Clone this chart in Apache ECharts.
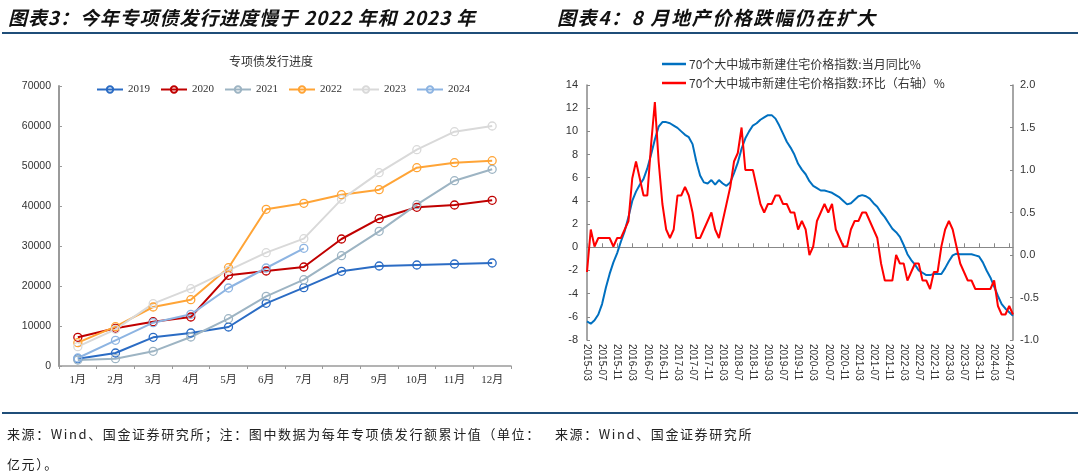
<!DOCTYPE html>
<html lang="zh">
<head>
<meta charset="UTF-8">
<title>专项债发行进度 / 地产价格</title>
<script src="https://cdn.jsdelivr.net/npm/echarts@6/dist/echarts.min.js"></script>
<style>
    html, body { margin: 0; padding: 0; background: #fff; }
    #page { position: relative; width: 1078px; height: 471px; overflow: hidden; font-family: "Noto Sans CJK SC", sans-serif; }
    #chart { position: absolute; left: 0; top: 0; width: 1078px; height: 471px; }
    .head { position: absolute; top: 6px; font-size: 19px; line-height: 22px; font-weight: bold; font-style: italic; color: #111; white-space: nowrap; }
    .rule { position: absolute; left: 2px; width: 1076px; height: 2px; background: #1f4e79; }
    .src { position: absolute; font-size: 13px; line-height: 18px; color: #222; letter-spacing: 1.6px; white-space: nowrap; }
</style>
</head>
<body>
<div id="page">
    <div id="chart"></div>
    <div class="head" style="left:8px;letter-spacing:0.9px;">图表3：今年专项债发行进度慢于 2022 年和 2023 年</div>
    <div class="head" style="left:557px;letter-spacing:1.6px;">图表4：8 月地产价格跌幅仍在扩大</div>
    <div class="rule" style="top:32px;"></div>
    <div class="rule" style="top:412px;"></div>
    <div class="src" style="left:7px;top:425px;">来源：Wind、国金证券研究所；注：图中数据为每年专项债发行额累计值（单位：</div>
    <div class="src" style="left:7px;top:455px;">亿元）。</div>
    <div class="src" style="left:555px;top:425px;">来源：Wind、国金证券研究所</div>
</div>
<script type="text/javascript">
    // 图表3 专项债累计发行额（亿元）
    var months = ['1月', '2月', '3月', '4月', '5月', '6月', '7月', '8月', '9月', '10月', '11月', '12月'];
    var years = ['2019', '2020', '2021', '2022', '2023', '2024'];
    var s2019 = [1830, 3250, 7170, 8250, 9750, 15670, 19580, 23670, 25000, 25250, 25500, 25750];
    var s2020 = [7170, 9420, 11080, 12250, 22670, 23750, 24750, 31750, 36830, 39670, 40250, 41420];
    var s2021 = [1500, 1830, 3670, 7250, 11830, 17420, 21580, 27580, 33670, 40330, 46330, 49170];
    var s2022 = [5830, 9830, 14750, 16580, 24580, 39170, 40670, 42830, 44080, 49580, 50830, 51330];
    var s2023 = [4830, 9170, 15580, 19330, 23900, 28330, 31830, 41670, 48330, 54080, 58580, 60000];
    var s2024 = [2000, 6420, 10830, 12920, 19500, 24500, 29420];

    // 图表4 70城新建住宅价格指数，2015-03 ~ 2024-08
    var startYear = 2015, startMonth = 3, monthCount = 114;
    var yoy = [
        -6.4, -6.6, -6.3, -5.8, -4.9, -3.5, -2.3, -1.3, -0.5, 0.5, 1.4,
        2.6, 4.0, 4.8, 5.4, 5.9, 6.8, 8.0, 9.3, 10.4, 10.8,
        10.8, 10.7, 10.5, 10.3, 10.0, 9.7, 9.5, 8.9, 7.4, 6.2,
        5.6, 5.5, 5.8, 5.4, 5.8, 5.5, 5.3, 5.6, 6.4, 7.3,
        8.5, 9.4, 10.0, 10.5, 10.7, 11.0, 11.2, 11.4, 11.4, 11.1,
        10.5, 9.8, 9.1, 8.6, 8.0, 7.2, 6.7, 6.3, 5.7, 5.3,
        5.1, 4.9, 4.9, 4.8, 4.7, 4.5, 4.3, 4.0, 3.7, 3.8,
        4.1, 4.4, 4.5, 4.4, 4.2, 3.8, 3.5, 3.0, 2.6, 2.1,
        1.6, 1.3, 0.9, 0.2, -0.6, -1.1, -1.5, -2.0, -2.2, -2.4,
        -2.4, -2.3, -2.3, -2.3, -1.8, -1.2, -0.7, -0.55, -0.6, -0.6,
        -0.6, -0.6, -0.7, -0.8, -1.3, -2.0, -2.6, -3.4, -4.2, -4.9,
        -5.3, -5.6, -5.9
    ];
    var mom = [
        -0.2, 0.3, 0.1, 0.2, 0.2, 0.2, 0.2, 0.1, 0.2, 0.2, 0.3,
        0.4, 0.9, 1.1, 0.9, 0.7, 0.7, 1.3, 1.8, 1.1, 0.6,
        0.3, 0.2, 0.3, 0.7, 0.7, 0.8, 0.7, 0.5, 0.2, 0.2,
        0.3, 0.4, 0.5, 0.3, 0.2, 0.4, 0.6, 0.8, 1.1, 1.2,
        1.5, 1.0, 1.0, 1.0, 0.8, 0.6, 0.5, 0.6, 0.6, 0.7,
        0.7, 0.6, 0.6, 0.5, 0.5, 0.3, 0.4, 0.3, 0.0, 0.1,
        0.4, 0.5, 0.6, 0.5, 0.6, 0.3, 0.2, 0.1, 0.1, 0.3,
        0.4, 0.4, 0.5, 0.5, 0.4, 0.3, 0.2, -0.1, -0.3, -0.3,
        -0.3, 0.0, -0.1, -0.1, -0.3, -0.2, -0.1, -0.1, -0.3, -0.3,
        -0.4, -0.2, -0.2, 0.1, 0.3, 0.4, 0.3, 0.1, -0.1, -0.2,
        -0.3, -0.3, -0.4, -0.4, -0.4, -0.4, -0.4, -0.3, -0.6, -0.7,
        -0.7, -0.6, -0.7
    ];
    var yoyName = '70个大中城市新建住宅价格指数:当月同比%';
    var momName = '70个大中城市新建住宅价格指数:环比（右轴）%';

    var dates = [];
    for (var i = 0; i < monthCount; i++) {
        var y = startYear + Math.floor((startMonth - 1 + i) / 12);
        var m = (startMonth - 1 + i) % 12 + 1;
        dates.push(y + '-' + (m < 10 ? '0' + m : m));
    }

    var yearData = [s2019, s2020, s2021, s2022, s2023, s2024];
    var yearColors = ['#2b6cc4', '#c00000', '#9db4c3', '#ffa436', '#d9d9d9', '#8db4e2'];
    var axisGrey = '#9a9a9a';
    var serif = "'Liberation Serif', 'Noto Sans CJK SC', serif";
    var sans = "'Liberation Sans', Arial, sans-serif";

    var series = [];
    for (var k = 0; k < years.length; k++) {
        series.push({
            name: years[k],
            type: 'line',
            xAxisIndex: 0,
            yAxisIndex: 0,
            data: yearData[k],
            symbol: 'circle',
            symbolSize: 8,
            lineStyle: { color: yearColors[k], width: 2 },
            itemStyle: { color: 'rgba(255,255,255,0)', borderColor: yearColors[k], borderWidth: 1.3 },
            z: 3
        });
    }
    series.push({
        name: yoyName, type: 'line', xAxisIndex: 1, yAxisIndex: 1, data: yoy,
        symbol: 'none', lineStyle: { color: '#0070c0', width: 2 }, itemStyle: { color: '#0070c0' }, z: 3
    });
    series.push({
        name: momName, type: 'line', xAxisIndex: 1, yAxisIndex: 2, data: mom,
        symbol: 'none', lineStyle: { color: '#ff0000', width: 2 }, itemStyle: { color: '#ff0000' }, z: 4
    });

    var chart = echarts.init(document.getElementById('chart'));
    var option = {
        animation: false,
        textStyle: { fontFamily: "'Noto Sans CJK SC', sans-serif" },
        graphic: [{
            type: 'text', x: 271, y: 61,
            style: { text: '专项债发行进度', textAlign: 'center', textVerticalAlign: 'middle', fill: '#333', font: "12px 'Noto Sans CJK SC'" }
        }],
        legend: [{
            data: years,
            left: 96, top: 84, padding: 0,
            itemWidth: 26, itemHeight: 8, itemGap: 10,
            textStyle: { fontFamily: serif, fontSize: 11, color: '#333' }
        }, {
            data: [yoyName, momName],
            orient: 'vertical',
            left: 662, top: 58, padding: 0,
            icon: 'rect',
            itemWidth: 24, itemHeight: 2.5, itemGap: 7,
            textStyle: { fontSize: 12, color: '#333', padding: [0, 0, 0, -2] }
        }],
        grid: [
            { left: 59, top: 86, width: 452, height: 280 },
            { left: 587, top: 85, width: 426, height: 255 }
        ],
        xAxis: [{
            gridIndex: 0, type: 'category', data: months, boundaryGap: true,
            axisLine: { lineStyle: { color: axisGrey, width: 1.5 } },
            axisTick: { show: true, length: 3, lineStyle: { color: axisGrey } },
            axisLabel: { color: '#333', fontFamily: serif, fontSize: 11, margin: 9 },
            splitLine: { show: false }
        }, {
            gridIndex: 1, type: 'category', data: dates, boundaryGap: false,
            axisLine: { onZero: true, lineStyle: { color: '#888', width: 1 } },
            axisTick: { show: true, inside: true, interval: 3, length: 4, lineStyle: { color: '#888' } },
            axisLabel: { show: false },
            splitLine: { show: false }
        }, {
            gridIndex: 1, type: 'category', data: dates, boundaryGap: false, position: 'bottom',
            axisLine: { show: false, onZero: false },
            axisTick: { show: false },
            axisLabel: { interval: 3, rotate: -90, color: '#333', fontFamily: sans, fontSize: 10, margin: 4 },
            splitLine: { show: false }
        }],
        yAxis: [{
            gridIndex: 0, type: 'value', min: 0, max: 70000, interval: 10000,
            axisLine: { show: true, lineStyle: { color: axisGrey, width: 2 } },
            axisTick: { show: true, inside: true, length: 3, lineStyle: { color: axisGrey } },
            axisLabel: { color: '#333', fontFamily: sans, fontSize: 10.5, margin: 8, formatter: function (v) { return String(v); } },
            splitLine: { show: false }
        }, {
            gridIndex: 1, type: 'value', min: -8, max: 14, interval: 2,
            axisLine: { show: true, onZero: false, lineStyle: { color: '#888', width: 1.5 } },
            axisTick: { show: true, inside: true, length: 3, lineStyle: { color: '#888' } },
            axisLabel: { color: '#333', fontFamily: sans, fontSize: 11, margin: 9 },
            splitLine: { show: false }
        }, {
            gridIndex: 1, type: 'value', position: 'right', min: -1, max: 2, interval: 0.5,
            axisLine: { show: true, onZero: false, lineStyle: { color: '#888', width: 1.5 } },
            axisTick: { show: true, inside: true, length: 3, lineStyle: { color: '#888' } },
            axisLabel: { color: '#333', fontFamily: sans, fontSize: 11, margin: 7, formatter: function (v) { return v.toFixed(1); } },
            splitLine: { show: false }
        }],
        series: series
    };
    chart.setOption(option);
</script>
</body>
</html>
